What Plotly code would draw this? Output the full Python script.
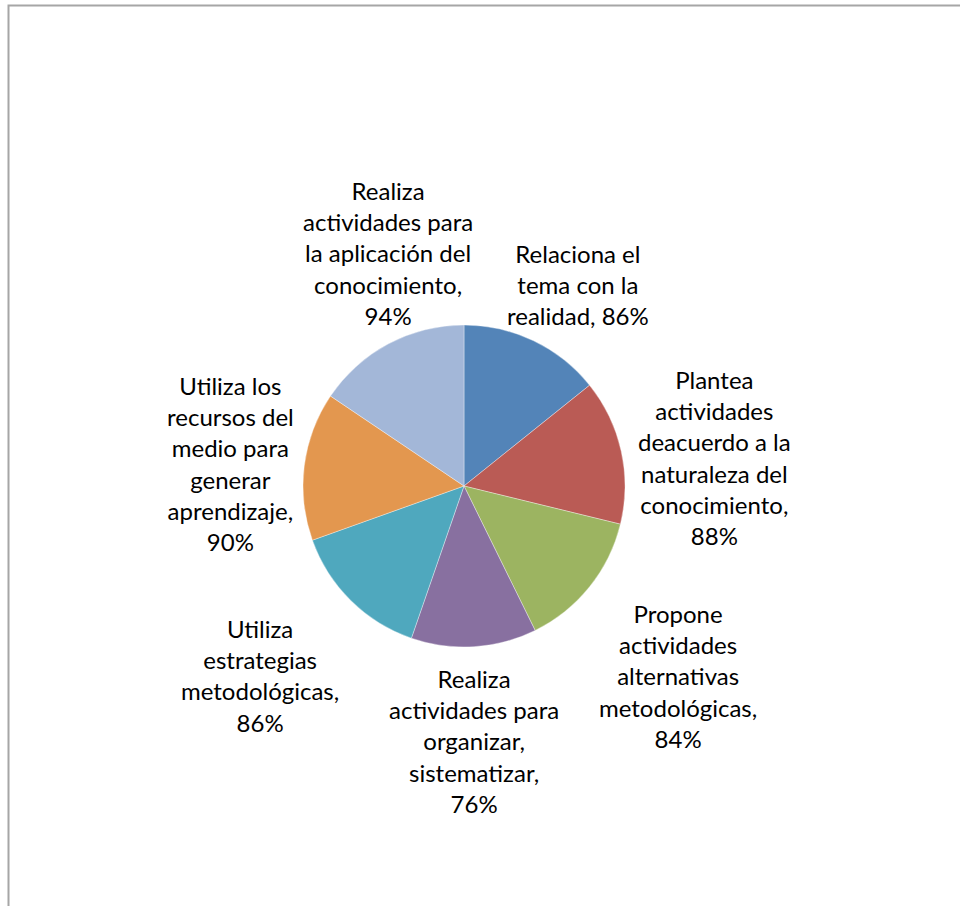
import plotly.graph_objects as go

# Categories (line breaks as drawn in the labels) and their percentages
categorias = [
    "Relaciona el<br>tema con la<br>realidad",
    "Plantea<br>actividades<br>deacuerdo a la<br>naturaleza del<br>conocimiento",
    "Propone<br>actividades<br>alternativas<br>metodológicas",
    "Realiza<br>actividades para<br>organizar,<br>sistematizar",
    "Utiliza<br>estrategias<br>metodológicas",
    "Utiliza los<br>recursos del<br>medio para<br>generar<br>aprendizaje",
    "Realiza<br>actividades para<br>la aplicación del<br>conocimiento",
]
porcentajes = [86, 88, 84, 76, 86, 90, 94]
# how the value is joined to the category text in each label
separador = [", ", ",<br>", ",<br>", ",<br>", ",<br>", ",<br>", ",<br>"]

colores = ["#5384B8", "#BA5B55", "#9CB461", "#8870A0", "#4FA8BE", "#E3974F", "#A3B7D8"]

W, H = 960, 906
cx, cy, r = 464, 486, 161

# label block centres (pixels)
pos_etiquetas = [(578, 285), (714, 457), (678, 676), (474, 741), (260, 675), (230, 464), (388, 253)]

fig = go.Figure(go.Pie(
    labels=[c.replace("<br>", " ") for c in categorias],
    values=porcentajes,
    sort=False,
    direction="clockwise",
    rotation=0,
    textinfo="none",
    marker=dict(colors=colores, line=dict(color="rgba(255,255,255,0.6)", width=0.6)),
    domain=dict(x=[(cx - r) / W, (cx + r) / W], y=[1 - (cy + r) / H, 1 - (cy - r) / H]),
    showlegend=False,
))

for cat, val, sep, (px, py) in zip(categorias, porcentajes, separador, pos_etiquetas):
    fig.add_annotation(
        x=px / W, y=1 - py / H, xref="paper", yref="paper",
        text=f"{cat}{sep}{val}%", showarrow=False,
        xanchor="center", yanchor="middle", align="center",
        font=dict(family="Lato", size=24, color="#000000"),
    )

# chart area frame
fig.add_shape(type="rect", xref="paper", yref="paper",
              x0=8.5 / W, x1=1.05, y0=-0.05, y1=1 - 5.5 / H,
              line=dict(color="#A6A6A6", width=2), fillcolor="rgba(0,0,0,0)")

fig.update_layout(
    width=W, height=H,
    margin=dict(l=0, r=0, t=0, b=0),
    paper_bgcolor="white", plot_bgcolor="white",
)

fig.write_html("out.html")
